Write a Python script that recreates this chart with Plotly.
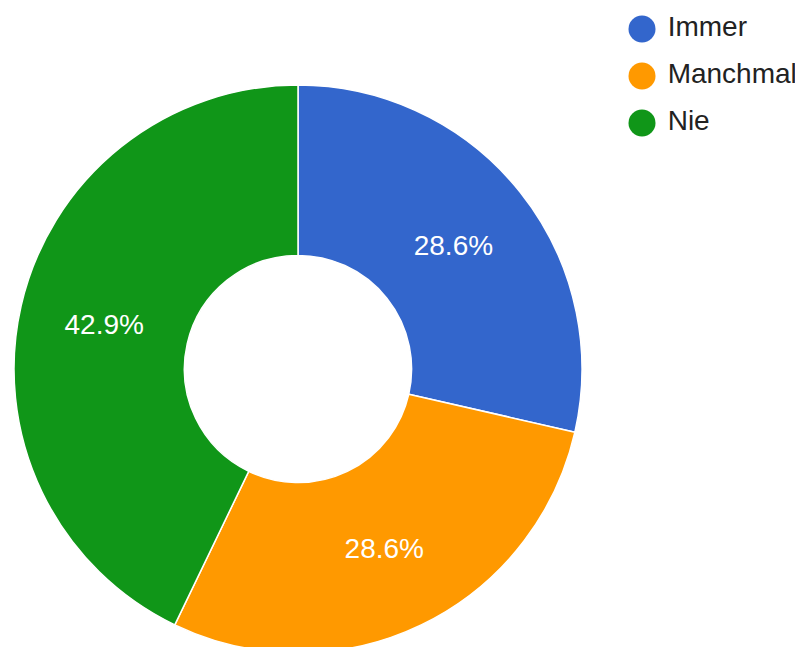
import plotly.graph_objects as go

# survey answers
labels = ["Immer", "Manchmal", "Nie"]
counts = [2, 2, 3]
colors = ["#3366cc", "#ff9900", "#109618"]
legend_rows = [0, 1, 2]

W, H = 803, 647
FONT = "Arial, Liberation Sans, sans-serif"

fig = go.Figure()

fig.add_trace(
    go.Pie(
        labels=labels,
        values=counts,
        hole=0.4,
        sort=False,
        direction="clockwise",
        rotation=0,
        marker=dict(colors=colors, line=dict(color="white", width=1.5)),
        texttemplate="%{percent:.1%}",
        textposition="inside",
        insidetextorientation="horizontal",
        insidetextfont=dict(color="white", size=28, family=FONT),
        domain=dict(x=[6 / W, 574 / W], y=[1 - 645 / H, 1 - 77 / H]),
        showlegend=False,
        hoverinfo="label+percent",
    )
)

# legend with round markers, drawn as a small scatter on hidden axes
fig.add_trace(
    go.Scatter(
        x=[0] * len(labels),
        y=legend_rows,
        mode="markers+text",
        text=[" " + l for l in labels],
        textposition="middle right",
        textfont=dict(color="#222222", size=28, family=FONT),
        marker=dict(size=27, color=colors),
        cliponaxis=False,
        showlegend=False,
        hoverinfo="skip",
    )
)

fig.update_layout(
    width=W,
    height=H,
    margin=dict(l=0, r=0, t=0, b=0),
    paper_bgcolor="white",
    plot_bgcolor="white",
    showlegend=False,
    xaxis=dict(domain=[620 / W, 1], range=[-14, 169], visible=False, fixedrange=True),
    yaxis=dict(domain=[1 - 141 / H, 1], range=[2.553, -0.447], visible=False, fixedrange=True),
)

fig.write_html("out.html")
